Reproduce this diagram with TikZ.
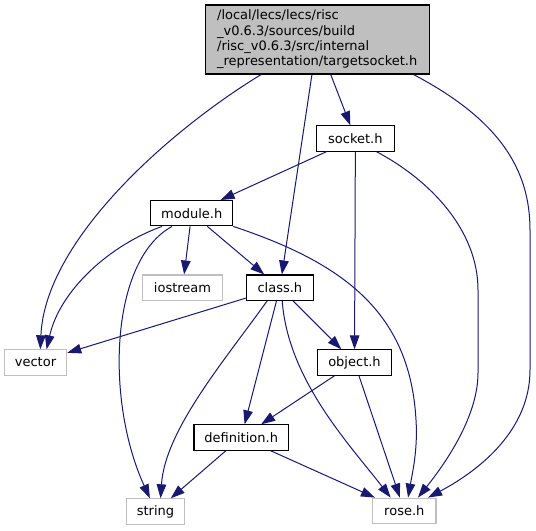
\documentclass[tikz,border=0pt]{standalone}
\usepackage{fontspec}
\setmainfont{DejaVu Sans}
\usetikzlibrary{arrows.meta}
\definecolor{edgeblue}{HTML}{191970}
\definecolor{extgray}{HTML}{BFBFBF}

\begin{document}
\begin{tikzpicture}[
	  x=0.75pt, y=-0.75pt,
	  font=\fontsize{9.75}{11.5}\selectfont,
	  >={Triangle[length=10.5pt,width=7.2pt]},
	  hdr/.style={draw=black, line width=0.8pt, minimum height=19pt, inner sep=0pt},
	  ext/.style={draw=extgray, line width=0.8pt, minimum height=19pt, inner sep=0pt},
	  dep/.style={draw=edgeblue, line width=0.75pt, ->},
	]

	\useasboundingbox (0,0) rectangle (536,531);

	\node [hdr, fill=extgray, minimum width=168.2pt, minimum height=51.75pt, align=left] (target) at (317.2,39.5) {/local/lecs/lecs/risc\\\_v0.6.3/sources/build\\/risc\_v0.6.3/src/internal\\\_representation/targetsocket.h};
	\node [hdr, minimum width=58pt] (socket) at (355.4,138.5) {socket.h};
	\node [hdr, minimum width=61.5pt] (module) at (191.7,213.2) {module.h};
	\node [ext, minimum width=60.3pt] (iostream) at (182.5,287.7) {iostream};
	\node [hdr, minimum width=49.7pt] (class) at (279.9,287.7) {class.h};
	\node [ext, minimum width=46.8pt] (vector) at (35.5,362.5) {vector};
	\node [hdr, minimum width=55.8pt] (object) at (354.5,362.5) {object.h};
	\node [hdr, minimum width=70.8pt] (definition) at (241.2,437.5) {definition.h};
	\node [ext, minimum width=43.1pt] (string) at (155.5,511.5) {string};
	\node [ext, minimum width=47.5pt] (rose) at (404.3,510.8) {rose.h};

	\draw [dep] (target) -- (socket);
	\draw [dep] (target) -- (class);
	\draw [dep] (target.212) .. controls (170,130) and (45,240) .. (vector.70);
	\draw [dep] (target.340) .. controls (500,120) and (530,170) .. (530,230) -- (530,370) .. controls (530,430) and (480,470) .. (rose.29);

	\draw [dep] (socket) -- (module);
	\draw [dep] (socket) -- (object);
	\draw [dep] (socket.328) .. controls (430,180) and (478,230) .. (478,290) -- (478,373) .. controls (478,420) and (440,470) .. (rose.44);

	\draw [dep] (module) -- (iostream);
	\draw [dep] (module) -- (class);
	\draw [dep] (module.204) .. controls (110,245) and (60,290) .. (vector.50);
	\draw [dep] (module.214) .. controls (110,260) and (105,400) .. (string.113);
	\draw [dep] (module.south east) .. controls (340,262) and (410,310) .. (416,420) .. controls (418,450) and (412,475) .. (rose.74);

	\draw [dep] (class) -- (vector);
	\draw [dep] (class) -- (object);
	\draw [dep] (class) -- (definition);
	\draw [dep] (class.226) .. controls (225,360) and (165,430) .. (string.69);
	\draw [dep] (class.280) .. controls (288,380) and (350,445) .. (rose.136);

	\draw [dep] (object) -- (definition);
	\draw [dep] (object) -- (rose);
	\draw [dep] (definition) -- (string);
	\draw [dep] (definition) -- (rose);
\end{tikzpicture}
\end{document}
